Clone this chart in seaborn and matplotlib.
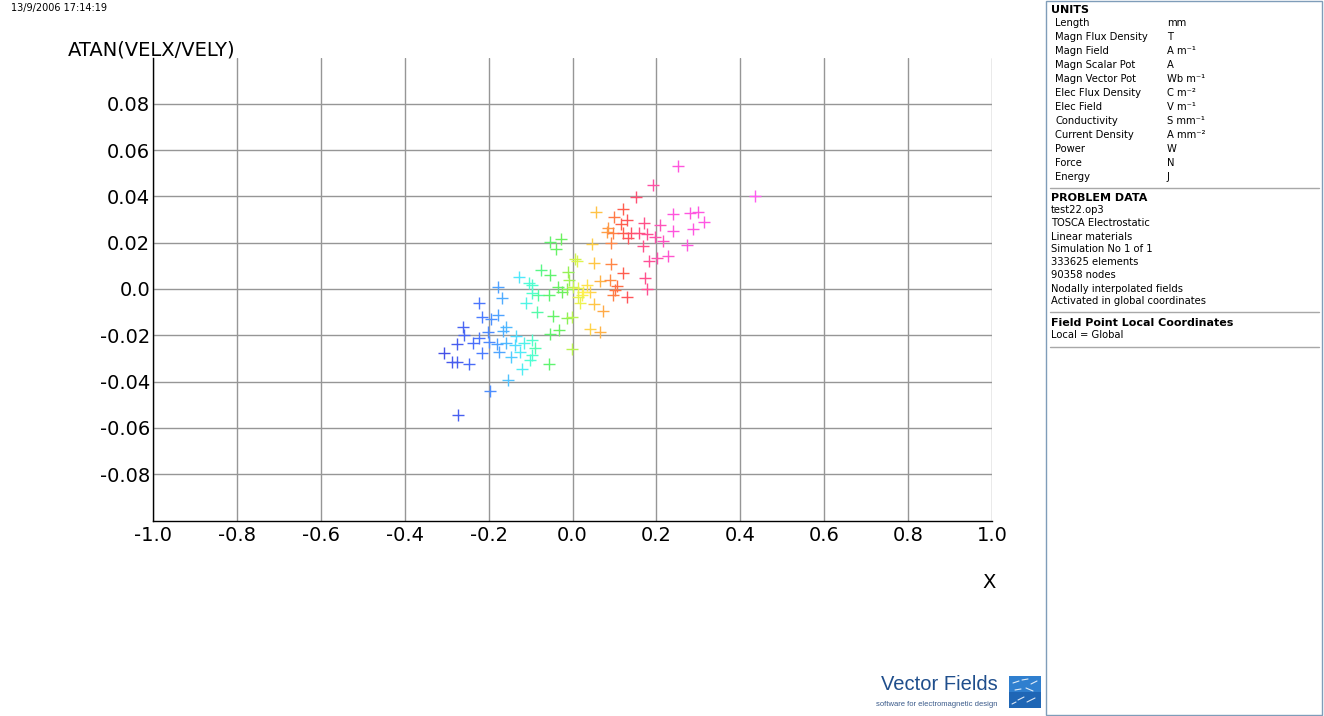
"""Scatter of ATAN(VELX/VELY) against X, styled like the Vector Fields OPERA post-processor page."""
import matplotlib
matplotlib.use("Agg")
import matplotlib.pyplot as plt  # type: ignore
import seaborn as sns  # type: ignore
import pandas as pd  # type: ignore
from matplotlib.colors import LinearSegmentedColormap
from matplotlib.patches import Rectangle
from matplotlib.lines import Line2D

sns.set_style("white")
plt.rcParams["font.family"] = ["DejaVu Sans"]
plt.rcParams["axes.unicode_minus"] = False
plt.rcParams["text.color"] = "black"

# --- data ------------------------------------------------------------------
x_vals = [
    -0.128, -0.104, -0.097, -0.075, -0.054, -0.011, -0.008, -0.178, -0.168, -0.223,
    -0.111, -0.097, -0.082, -0.056, -0.035, -0.025, -0.013, 0.001, 0.013, 0.023,
    0.035, 0.042, 0.018, 0.051, -0.085, -0.046, -0.013, -0.001, -0.216, -0.194,
    -0.178, -0.261, -0.259, -0.201, -0.159, -0.166, -0.135, -0.223, -0.237, -0.275,
    -0.199, -0.180, -0.159, -0.137, -0.116, -0.097, -0.089, -0.054, -0.032, 0.042,
    -0.306, -0.216, -0.175, -0.147, -0.125, -0.097, -0.101, -0.287, -0.275, -0.247,
    -0.056, -0.001, -0.120, -0.154, -0.197, -0.273, 0.056, -0.054, -0.027, -0.039,
    0.011, 0.006, 0.046, 0.051, 0.099, 0.120, 0.116, 0.085, 0.082, 0.097,
    0.120, 0.130, 0.132, 0.092, 0.092, 0.120, 0.066, 0.089, 0.106, 0.101,
    0.130, 0.097, 0.025, 0.013, 0.173, 0.178, 0.073, 0.066, 0.192, 0.151,
    0.170, 0.209, 0.240, 0.280, 0.299, 0.313, 0.287, 0.240, 0.139, 0.159,
    0.178, 0.197, 0.216, 0.168, 0.273, 0.228, 0.201, 0.182, 0.251, 0.435,
]
y_vals = [
    0.0052, 0.0026, 0.0017, 0.0082, 0.0060, 0.0073, 0.0039, 0.0009, -0.0039, -0.0060,
    -0.0060, -0.0017, -0.0026, -0.0026, 0.0009, -0.0013, 0.0000, 0.0009, 0.0004, -0.0026,
    0.0017, -0.0013, -0.0060, -0.0065, -0.0099, -0.0117, -0.0125, -0.0121, -0.0121, -0.0130,
    -0.0112, -0.0164, -0.0199, -0.0186, -0.0164, -0.0181, -0.0203, -0.0212, -0.0233, -0.0238,
    -0.0229, -0.0238, -0.0233, -0.0242, -0.0233, -0.0220, -0.0255, -0.0194, -0.0177, -0.0173,
    -0.0276, -0.0276, -0.0272, -0.0294, -0.0272, -0.0285, -0.0307, -0.0315, -0.0315, -0.0324,
    -0.0324, -0.0259, -0.0346, -0.0393, -0.0441, -0.0544, 0.0333, 0.0203, 0.0216, 0.0173,
    0.0121, 0.0130, 0.0194, 0.0112, 0.0311, 0.0346, 0.0281, 0.0263, 0.0246, 0.0242,
    0.0242, 0.0298, 0.0220, 0.0199, 0.0108, 0.0069, 0.0035, 0.0039, 0.0013, -0.0004,
    -0.0035, -0.0026, -0.0013, -0.0035, 0.0048, 0.0000, -0.0095, -0.0186, 0.0449, 0.0397,
    0.0285, 0.0276, 0.0324, 0.0328, 0.0333, 0.0289, 0.0259, 0.0251, 0.0242, 0.0242,
    0.0238, 0.0225, 0.0207, 0.0186, 0.0190, 0.0143, 0.0134, 0.0121, 0.0531, 0.0402,
]

x_ticks = [-1.0, -0.8, -0.6, -0.4, -0.2, 0.0, 0.2, 0.4, 0.6, 0.8, 1.0]
x_tick_labels = ["-1.0", "-0.8", "-0.6", "-0.4", "-0.2", "0.0", "0.2", "0.4", "0.6", "0.8", "1.0"]
y_ticks = [-0.08, -0.06, -0.04, -0.02, 0.0, 0.02, 0.04, 0.06, 0.08]
y_tick_labels = ["-0.08", "-0.06", "-0.04", "-0.02", "0.0", "0.02", "0.04", "0.06", "0.08"]

unit_names = ["Length", "Magn Flux Density", "Magn Field", "Magn Scalar Pot",
              "Magn Vector Pot", "Elec Flux Density", "Elec Field", "Conductivity",
              "Current Density", "Power", "Force", "Energy"]
unit_values = ["mm", "T", "A m\u207b\u00b9", "A", "Wb m\u207b\u00b9", "C m\u207b\u00b2",
               "V m\u207b\u00b9", "S mm\u207b\u00b9", "A mm\u207b\u00b2", "W", "N", "J"]
problem_lines = ["test22.op3", "TOSCA Electrostatic", "Linear materials",
                 "Simulation No 1 of 1", "333625 elements", "90358 nodes",
                 "Nodally interpolated fields", "Activated in global coordinates"]

# --- colour ramp (blue -> cyan -> green -> yellow -> red -> magenta) --------
ramp_x = [-0.31, -0.22, -0.17, -0.13, -0.10, -0.07, -0.02, 0.005, 0.025,
          0.05, 0.08, 0.11, 0.14, 0.18, 0.24, 0.44]
ramp_c = ["#4650e6", "#4b78ff", "#50aaff", "#50e6ff", "#50ffd2", "#5af578",
          "#6ef05a", "#d2f550", "#fff050", "#ffc846", "#ffa046", "#ff6446",
          "#ff5064", "#ff5096", "#ff55dc", "#ff5af0"]
lo, hi = ramp_x[0], ramp_x[-1]
cmap = LinearSegmentedColormap.from_list(
    "vf", [((v - lo) / (hi - lo), c) for v, c in zip(ramp_x, ramp_c)])

df = pd.DataFrame({"x": x_vals, "y": y_vals})

W, H = 1324, 716
fig = plt.figure(figsize=(W / 100, H / 100), dpi=100)
ax = fig.add_axes([153 / W, (H - 520.5) / H, (992 - 153) / W, (520.5 - 57.5) / H])

sns.scatterplot(data=df, x="x", y="y", hue="x", palette=cmap, hue_norm=(lo, hi),
                marker="+", s=80, linewidth=1.0, legend=False, ax=ax, zorder=3)

ax.set_xlim(-1.0, 1.0)
ax.set_ylim(-0.1, 0.1)
ax.set_xticks(x_ticks)
ax.set_xticklabels(x_tick_labels)
ax.set_yticks(y_ticks)
ax.set_yticklabels(y_tick_labels)
ax.set_xlabel("")
ax.set_ylabel("")
ax.tick_params(axis="both", length=0, labelsize=14, colors="black")
ax.tick_params(axis="x", pad=4)
ax.tick_params(axis="y", pad=2)
ax.grid(True, color="#969696", linewidth=1.0)
ax.set_axisbelow(True)
for side in ["top", "right"]:
    ax.spines[side].set_visible(False)
for side in ["left", "bottom"]:
    ax.spines[side].set_color("black")
    ax.spines[side].set_linewidth(1.0)
    ax.spines[side].set_zorder(4)


def fx(px):
    return px / W


def fy(py):
    return 1 - py / H


fig.text(fx(11), fy(8), "13/9/2006 17:14:19", fontsize=7, va="center")
fig.text(fx(68), fy(50), "ATAN(VELX/VELY)", fontsize=14, va="center")
fig.text(fx(989), fy(582), "X", fontsize=14, va="center", ha="center")

# --- right-hand info panel ---------------------------------------------------
fig.patches.append(Rectangle((fx(1046), fy(715)), fx(1322) - fx(1046), fy(0.5) - fy(715),
                             transform=fig.transFigure, fill=False,
                             edgecolor="#7f9db9", linewidth=1.0))

fig.text(fx(1051), fy(10), "UNITS", fontsize=8, fontweight="bold", va="center")
for i, (name, unit) in enumerate(zip(unit_names, unit_values)):
    yy = 22.5 + 14 * i
    fig.text(fx(1055), fy(yy), name, fontsize=7.2, va="center")
    fig.text(fx(1167), fy(yy), unit, fontsize=7.2, va="center")

fig.text(fx(1051), fy(198), "PROBLEM DATA", fontsize=8, fontweight="bold", va="center")
for i, line in enumerate(problem_lines):
    fig.text(fx(1051), fy(210.5 + 13 * i), line, fontsize=7.2, va="center")

fig.text(fx(1051), fy(322.5), "Field Point Local Coordinates", fontsize=8,
         fontweight="bold", va="center")
fig.text(fx(1051), fy(335.5), "Local = Global", fontsize=7.2, va="center")

for sep in [188, 312, 347]:
    fig.lines.append(Line2D([fx(1050), fx(1319)], [fy(sep), fy(sep)],
                            transform=fig.transFigure, color="#a8a8a8", linewidth=1.0))

# --- logo --------------------------------------------------------------------
fig.text(fx(998), fy(685), "Vector Fields", fontsize=14.5, family="Liberation Sans",
         color="#1f4e8c", ha="right", va="center")
fig.text(fx(998), fy(705), "software for electromagnetic design", fontsize=5.5,
         family="Liberation Sans", color="#3a5a8a", ha="right", va="center")
fig.patches.append(Rectangle((fx(1009), fy(708)), fx(32), fy(676) - fy(708),
                             transform=fig.transFigure, facecolor="#2f7fcf",
                             edgecolor="none"))
fig.patches.append(Rectangle((fx(1009), fy(708)), fx(32), fy(692) - fy(708),
                             transform=fig.transFigure, facecolor="#1f66b5",
                             edgecolor="none"))
for (x0, y0, x1, y1) in [(1013, 683, 1019, 681), (1022, 680, 1028, 679), (1031, 684, 1037, 681),
                         (1015, 690, 1021, 689), (1026, 688, 1033, 691), (1018, 700, 1024, 697),
                         (1027, 702, 1035, 698), (1012, 704, 1016, 702)]:
    fig.lines.append(Line2D([fx(x0), fx(x1)], [fy(y0), fy(y1)], transform=fig.transFigure,
                            color="white", linewidth=0.8, alpha=0.85))

fig.savefig("out.png", dpi=100)
